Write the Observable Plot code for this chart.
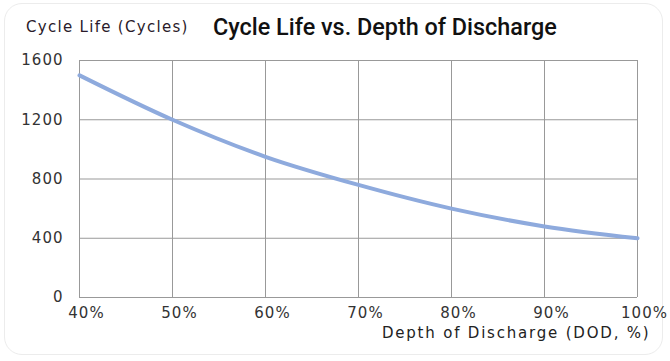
<!DOCTYPE html>
<html>
<head>
<meta charset="utf-8">
<script src="https://cdn.jsdelivr.net/npm/d3@7"></script>
<script src="https://cdn.jsdelivr.net/npm/@observablehq/plot@0.6"></script>
<style>
  html, body { margin: 0; padding: 0; background: #fff; }
  #wrap { position: relative; width: 670px; height: 361px; overflow: hidden; font-family: "DejaVu Sans", sans-serif; }
  #frame { position: absolute; left: 4px; top: 3px; width: 659px; height: 352px; border: 1px solid #ececec; border-radius: 18px; box-sizing: border-box; }
  #header { position: relative; height: 48px; }
  #ylab { position: absolute; left: 26px; top: 18px; font-size: 15px; letter-spacing: 1.3px; color: #2a1a2a; white-space: nowrap; }
  #title { position: absolute; left: 213px; top: 13px; font-family: Roboto, "DejaVu Sans", sans-serif; font-weight: 500; font-size: 23.4px; color: #111; white-space: nowrap; }
  #chart { position: relative; }
  #chart svg text { letter-spacing: 1px; }
  #chart svg text.xlab { letter-spacing: 1.8px; }
</style>
</head>
<body>
<div id="wrap">
  <div id="frame"></div>
  <div id="header">
    <div id="ylab">Cycle Life (Cycles)</div>
    <div id="title">Cycle Life vs. Depth of Discharge</div>
  </div>
  <div id="chart"></div>
</div>
<script>
const dod = [40, 50, 60, 70, 80, 90, 100];
const cycles = [1500, 1200, 950, 760, 600, 480, 400];
const xTicks = [40, 50, 60, 70, 80, 90, 100];
const yTicks = [0, 400, 800, 1200, 1600];
const xLabel = "Depth of Discharge (DOD, %)";

const data = dod.map((d, i) => ({dod: d, cycles: cycles[i]}));

const chart = Plot.plot({
  width: 670,
  height: 313,
  marginLeft: 79,
  marginRight: 33,
  marginTop: 12,
  marginBottom: 64,
  style: {fontFamily: "'DejaVu Sans', sans-serif", fontSize: "15px", color: "#333", background: "transparent", overflow: "visible"},
  x: {domain: [40, 100], label: null},
  y: {domain: [0, 1600], label: null},
  marks: [
    Plot.gridX(xTicks, {stroke: "#999", strokeOpacity: 1}),
    Plot.gridY(yTicks, {stroke: "#999", strokeOpacity: 1}),
    Plot.axisX(xTicks, {tickSize: 0, tickPadding: 10, tickFormat: d => d + "%", dx: 7, label: null}),
    Plot.axisY(yTicks, {tickSize: 0, tickPadding: 16, tickFormat: d => String(d), label: null}),
    Plot.line(data, {x: "dod", y: "cycles", stroke: "#8eaadd", strokeWidth: 4, curve: "monotone-x"}),
    Plot.text([xLabel], {text: d => d, frameAnchor: "bottom-right", textAnchor: "end", dx: 13, dy: 40, fill: "#222"})
  ]
});
d3.select(chart).selectAll("text").filter(function () { return this.textContent === xLabel; }).classed("xlab", true);
document.getElementById("chart").appendChild(chart);
</script>
</body>
</html>
